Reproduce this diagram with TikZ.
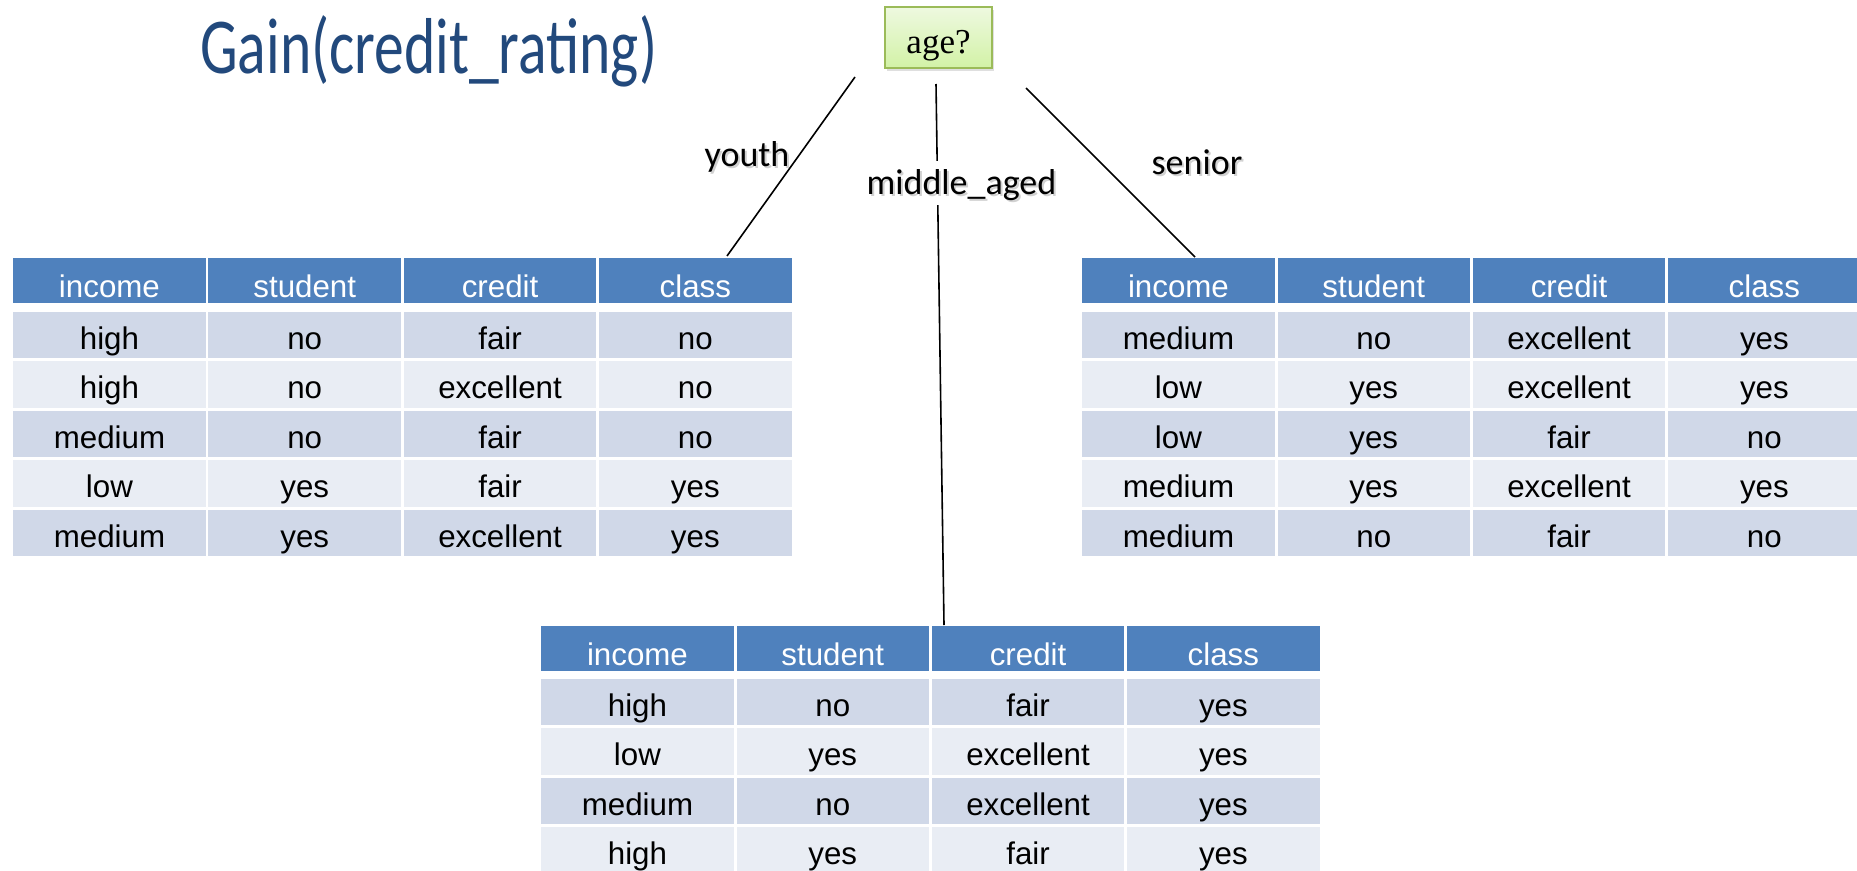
\documentclass[tikz,border=0pt]{standalone}
\usepackage{fontspec}
\setmainfont{Liberation Sans}
\newfontfamily\calibri{Carlito}
\newfontfamily\timesfont{Liberation Serif}
\usetikzlibrary{matrix,shadows}
\definecolor{hdrblue}{HTML}{4F81BD}
\definecolor{rowdark}{HTML}{D0D8E8}
\definecolor{rowlight}{HTML}{E9EDF4}
\definecolor{titleblue}{HTML}{22497C}
\definecolor{boxtop}{HTML}{EEF9E0}
\definecolor{boxbot}{HTML}{D2F2A6}
\definecolor{boxedge}{HTML}{9BBB59}
\newcommand{\softshadow}[1]{\makebox[0pt][l]{\raisebox{-2.5pt}{\hspace{2pt}\textcolor{black!18}{#1}}}#1}

\begin{document}
\begin{tikzpicture}[x=1pt,y=-1pt]
\tikzstyle{every node}+=[inner sep=0pt]
\tikzstyle{cell}=[minimum width=192.5pt,minimum height=46.5pt,text height=28.5pt,text depth=0pt,font=\fontsize{31.3}{36}\selectfont]
\tikzstyle{hdr}=[cell,fill=hdrblue,text=white,minimum height=45pt,text height=33pt]
\tikzstyle{dark}=[cell,fill=rowdark]
\tikzstyle{light}=[cell,fill=rowlight]
\tikzstyle{datatable}=[matrix of nodes,inner sep=0pt,column sep=2.8pt,row sep=3pt,anchor=north west,
  row 1/.style={nodes=hdr},row 2/.style={nodes=dark},row 3/.style={nodes=light},
  row 4/.style={nodes=dark},row 5/.style={nodes=light},row 6/.style={nodes=dark}]
\tikzstyle{branch}=[fill=white,inner xsep=2pt,inner ysep=4pt,text height=29pt,text depth=7pt,font=\calibri\fontsize{36}{40}\selectfont]
\tikzstyle{edge}=[black,line width=1.6pt]
\useasboundingbox (0,0) rectangle (1857,870);

% title and root
\node [anchor=base west,text=titleblue,font=\calibri\fontsize{59.6}{60}\selectfont] (title) at (200,73) {\scalebox{1}[1.33]{Gain(credit\_rating)}};
\node [draw=boxedge,line width=1.5pt,top color=boxtop,bottom color=boxbot,minimum width=107pt,minimum height=61pt,
  text height=31pt,text depth=0pt,font=\timesfont\fontsize{35}{40}\selectfont,
  drop shadow={shadow xshift=2pt,shadow yshift=-3pt,opacity=0.25}] (age) at (938.5,37.5) {age?};

% the three subsets
\matrix [datatable] (youthtab) at (13,258) {
income & student & credit & class \\[5.5pt]
high & no & fair & no \\
high & no & excellent & no \\
medium & no & fair & no \\
low & yes & fair & yes \\
medium & yes & excellent & yes \\
};
\matrix [datatable] (seniortab) at (1082,258) {
income & student & credit & class \\[5.5pt]
medium & no & excellent & yes \\
low & yes & excellent & yes \\
low & yes & fair & no \\
medium & yes & excellent & yes \\
medium & no & fair & no \\
};
\matrix [datatable] (midtab) at (541,626) {
income & student & credit & class \\[4.5pt]
high & no & fair & yes \\
low & yes & excellent & yes \\
medium & no & excellent & yes \\
high & yes & fair & yes \\
};

% branches
\coordinate (y0) at (855,77);
\coordinate (y1) at (727,256);
\coordinate (m0) at (936,84);
\coordinate (m1) at (944,625);
\coordinate (s0) at (1026,88);
\coordinate (s1) at (1195,257);
\draw [edge] (y0) -- (y1);
\draw [edge] (m0) -- (m1);
\draw [edge] (s0) -- (s1);
\node [branch,fill=none] (youth) at (747,155) {\softshadow{youth}};
\node [branch] (middle) at (961.5,183) {\softshadow{middle\_aged}};
\node [branch,fill=none] (senior) at (1197,163) {\softshadow{senior}};
\end{tikzpicture}
\end{document}
